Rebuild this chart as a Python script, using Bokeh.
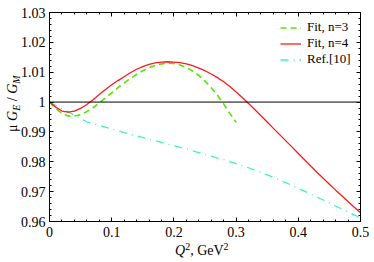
from bokeh.plotting import figure
from bokeh.models import (Span, Legend, LegendItem, LinearAxis, Div,
                          FixedTicker, CustomJSTickFormatter, Range1d)
from bokeh.embed import file_html
from bokeh.resources import INLINE

# ---------------- data ----------------
q_n4 = [i / 100 for i in range(0, 51)]
v_n4 = [1.0000, 0.9983, 0.9970, 0.9966, 0.9970, 0.9979, 0.9992, 1.0008, 1.0025, 1.0042,
        1.0058, 1.0072, 1.0085, 1.0098, 1.0110, 1.0119, 1.0126, 1.0131, 1.0134, 1.0135,
        1.0134, 1.0132, 1.0128, 1.0122, 1.0114, 1.0105, 1.0094, 1.0082, 1.0068, 1.0052,
        1.0034, 1.0015, 0.9995, 0.9975, 0.9954, 0.9933, 0.9912, 0.9891, 0.9870, 0.9849,
        0.9828, 0.9807, 0.9786, 0.9765, 0.9745, 0.9725, 0.9705, 0.9686, 0.9667, 0.9648,
        0.9629]

q_n3 = [i / 100 for i in range(0, 31)]
v_n3 = [1.0000, 0.9978, 0.9962, 0.9953, 0.9953, 0.9958, 0.9968, 0.9981, 0.9997, 1.0014,
        1.0031, 1.0048, 1.0064, 1.0079, 1.0093, 1.0105, 1.0115, 1.0123, 1.0128, 1.0130,
        1.0129, 1.0124, 1.0116, 1.0104, 1.0089, 1.0070, 1.0048, 1.0023, 0.9994, 0.9962,
        0.9932]

q_ref = [0.00, 0.01, 0.02, 0.03, 0.04, 0.05, 0.06, 0.07, 0.08, 0.10, 0.12, 0.14, 0.16,
         0.18, 0.20, 0.22, 0.24, 0.26, 0.28, 0.30, 0.32, 0.34, 0.36, 0.38, 0.40, 0.42,
         0.44, 0.46, 0.48, 0.50]
v_ref = [1.0000, 0.9989, 0.9978, 0.9967, 0.9956, 0.9944, 0.9934, 0.9928, 0.9922, 0.9910,
         0.9898, 0.9887, 0.9876, 0.9865, 0.9854, 0.9843, 0.9831, 0.9819, 0.9807, 0.9794,
         0.9780, 0.9764, 0.9748, 0.9730, 0.9711, 0.9692, 0.9672, 0.9652, 0.9632, 0.9612]

x_ticks = [0.0, 0.1, 0.2, 0.3, 0.4, 0.5]
y_ticks = [0.96, 0.97, 0.98, 0.99, 1.00, 1.01, 1.02, 1.03]
series_labels = ["Fit, n=3", "Fit, n=4", "Ref.[10]"]
ref_level = 1.0

FONT = "serif"
CSS_FONT = "'Liberation Serif','Times New Roman',serif"

x_minor = [round(x_ticks[0] + k * 0.02, 4) for k in range(0, 26)]
y_minor = [round(y_ticks[0] + k * 0.002, 4) for k in range(0, 36)]

p = figure(width=374, height=262, x_range=Range1d(0, 0.5), y_range=Range1d(0.96, 1.03),
           output_backend="svg", toolbar_location=None,
           min_border_left=49, min_border_right=14, min_border_top=12, min_border_bottom=41)
p.grid.visible = False
p.outline_line_color = "black"
p.background_fill_color = "white"
p.border_fill_color = "white"

p.add_layout(LinearAxis(), "above")
p.add_layout(LinearAxis(), "right")

fmt = CustomJSTickFormatter(code="return parseFloat(tick.toFixed(3)).toString();")
for ax in p.xaxis:
    ax.ticker = FixedTicker(ticks=x_ticks, minor_ticks=x_minor)
for ax in p.yaxis:
    ax.ticker = FixedTicker(ticks=y_ticks, minor_ticks=y_minor)
for ax in list(p.xaxis) + list(p.yaxis):
    ax.formatter = fmt
    ax.axis_line_color = "black"
    ax.axis_line_width = 1
    ax.major_tick_in = 4
    ax.major_tick_out = 0
    ax.minor_tick_in = 2
    ax.minor_tick_out = 0
    ax.major_tick_line_color = "black"
    ax.minor_tick_line_color = "black"
    ax.major_label_text_font = FONT
    ax.major_label_text_font_size = "14px"
    ax.major_label_text_color = "black"
p.below[0].major_label_standoff = 5
p.left[0].major_label_standoff = 4
for ax in (p.above[0], p.right[0]):
    ax.major_label_text_font_size = "0px"
    ax.major_label_standoff = 0

p.add_layout(Span(location=ref_level, dimension="width", line_color="black", line_width=1))

r_ref = p.line(q_ref, v_ref, line_color="#3df5c0", line_width=1.3, line_dash="8 5 1 5")
r_n3 = p.line(q_n3, v_n3, line_color="#55e600", line_width=1.6, line_dash="6 4")
r_n4 = p.line(q_n4, v_n4, line_color="#ff1a1a", line_width=1.3)

legend = Legend(items=[LegendItem(label=series_labels[0], renderers=[r_n3]),
                       LegendItem(label=series_labels[1], renderers=[r_n4]),
                       LegendItem(label=series_labels[2], renderers=[r_ref])],
                location=(231, 154), margin=0, padding=0, spacing=0,
                label_height=15, glyph_height=15, glyph_width=21, label_standoff=6,
                label_text_font=FONT, label_text_font_size="13px",
                label_text_color="black", border_line_color=None,
                background_fill_alpha=0)
p.add_layout(legend)

# axis titles as real (HTML) text with italics and sub/superscripts
ylabel = Div(
    text=('\u03bc <i>G</i><sub style="font-size:10px;vertical-align:-3px;line-height:0">'
          '<i>E</i></sub> / <i>G</i><sub style="font-size:10px;vertical-align:-3px;'
          'line-height:0"><i>M</i></sub>'),
    styles={"position": "absolute", "left": "6px", "top": "132px",
            "transform": "rotate(-90deg)", "transform-origin": "left top",
            "white-space": "nowrap", "font-family": CSS_FONT, "font-size": "14px",
            "line-height": "14px", "color": "black", "margin": "0", "padding": "0"})
xlabel = Div(
    text=('<i>Q</i><sup style="font-size:10px;vertical-align:5px;line-height:0">2</sup>'
          ', GeV<sup style="font-size:10px;vertical-align:5px;line-height:0">2</sup>'),
    styles={"position": "absolute", "left": "175px", "top": "244px",
            "white-space": "nowrap", "font-family": CSS_FONT, "font-size": "14px",
            "line-height": "14px", "color": "black", "margin": "0", "padding": "0"})
p.elements = [ylabel, xlabel]

open("out.html", "w").write(file_html(p, INLINE))
